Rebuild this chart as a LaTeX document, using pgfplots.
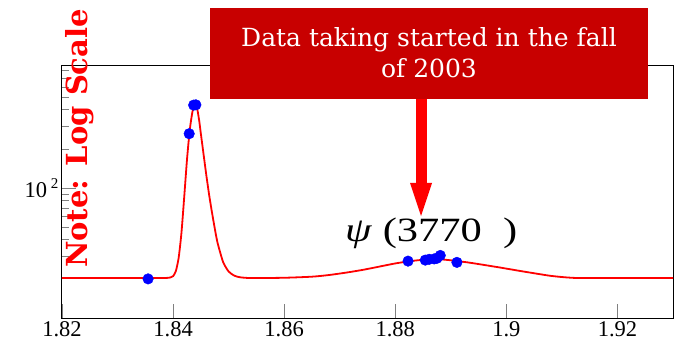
\documentclass[border=0pt]{standalone}
\usepackage{fontspec}
\setmainfont{Liberation Serif}
\newfontfamily\dejavuserif{DejaVu Serif}
\usepackage{graphicx}
\usepackage{pgfplots}
\pgfplotsset{compat=1.18}
\definecolor{boxred}{RGB}{200,0,0}
\definecolor{curvered}{RGB}{255,0,0}
\definecolor{dotblue}{RGB}{0,0,255}
\begin{document}
\begin{tikzpicture}[x=1pt,y=1pt]
\useasboundingbox (0,0) rectangle (674,343);
\begin{axis}[
  at={(62pt,25pt)}, anchor=south west,
  scale only axis, width=611pt, height=252pt,
  xmin=1.82, xmax=1.93,
  ymode=log, ymin=10, ymax=870,
  xtick={1.82,1.84,1.86,1.88,1.9,1.92},
  xticklabels={1.82,1.84,1.86,1.88,1.9,1.92},
  ytick={100},
  yticklabels={{10\,\raisebox{0.4em}{\fontsize{15}{15}\selectfont 2}}},
  minor ytick={20,30,40,50,60,70,80,90,200,300,400,500,600,700,800},
  xtick pos=left, ytick pos=left,
  tick align=inside,
  major tick length=14pt, minor tick length=7pt,
  tick style={gray, line width=0.8pt},
  axis line style={line width=1pt},
  ticklabel style={font=\fontsize{22.5}{22.5}\selectfont},
  /pgf/number format/assume math mode=true,
]
\addplot[curvered, line width=1.8pt, smooth, tension=0.4, no marks] coordinates {
(1.8200,20.3) (1.8300,20.3) (1.8380,20.3) (1.8395,20.5) (1.8400,21)
(1.8405,23) (1.8410,29) (1.8415,45) (1.8420,85) (1.8425,165)
(1.8430,280) (1.8435,390) (1.8439,432) (1.8443,415) (1.8447,330)
(1.8450,262) (1.8455,180) (1.8460,124) (1.8465,88) (1.8470,65)
(1.8475,49) (1.8480,38) (1.8490,27) (1.8500,22.8) (1.8510,21.2)
(1.8520,20.6) (1.8540,20.3) (1.8600,20.4) (1.8650,20.8) (1.8680,21.4)
(1.8710,22.3) (1.8740,23.4) (1.8770,24.8) (1.8800,26.3) (1.8830,27.5)
(1.8860,28.3) (1.8880,28.3) (1.8900,27.8) (1.8930,26.8) (1.8960,25.6)
(1.8990,24.4) (1.9020,23.2) (1.9050,22.1) (1.9080,21.1) (1.9110,20.5)
(1.9140,20.3) (1.9300,20.3)
};
\addplot[only marks, mark=*, mark size=5.3pt, mark options={fill=dotblue, draw=dotblue}] coordinates {
(1.8355,20.0) (1.8429,262) (1.8437,435) (1.8441,437)
(1.8823,27.4) (1.8854,27.9) (1.8861,28.3) (1.8870,28.5) (1.8875,28.8) (1.8881,30.3) (1.8911,26.8)
};
\end{axis}
% annotation box and arrow
\fill[boxred] (210,244) rectangle (648,335);
\node[anchor=base, inner sep=0, text=white, font=\dejavuserif\fontsize{25}{25}\selectfont] at (429,296.3) {Data taking started in the fall};
\node[anchor=base, inner sep=0, text=white, font=\dejavuserif\fontsize{25}{25}\selectfont] at (429,265) {of 2003};
\fill[curvered] (416,244) rectangle (426.5,160);
\fill[curvered] (410,160) -- (432,160) -- (421,127) -- cycle;
% note
\node[rotate=90, anchor=base, inner sep=0, text=curvered] at (87,204.5) {\dejavuserif\bfseries\fontsize{29}{29}\selectfont Note: Log Scale};
% psi label
\node[anchor=base west, inner sep=0] at (345,102) {\scalebox{1.25}[1]{\fontsize{34}{34}\selectfont\textit{ψ}\ (3770\ \ )}};
\end{tikzpicture}
\end{document}
